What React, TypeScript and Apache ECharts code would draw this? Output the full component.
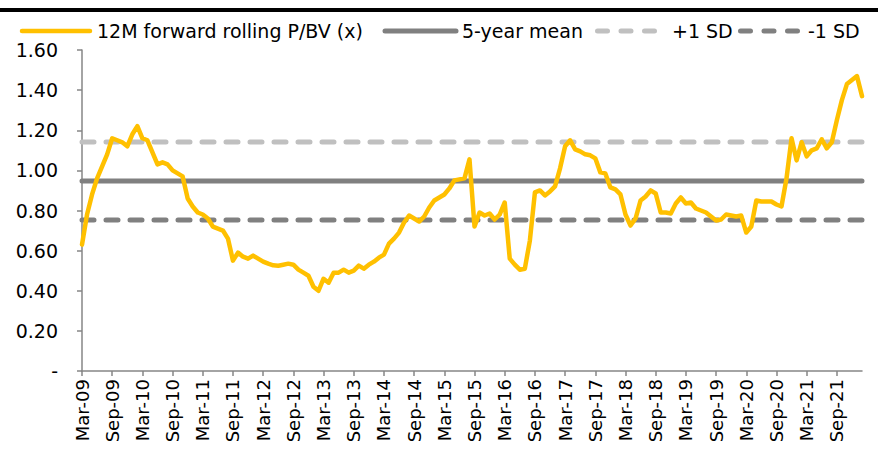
import React, { useEffect, useRef } from "react";
import * as echarts from "echarts";

// Monthly observations, Mar-09 .. Feb-22
const START_YEAR = 2009;
const START_MONTH = 2; // March (0-based)
const MONTHS = ["Jan", "Feb", "Mar", "Apr", "May", "Jun", "Jul", "Aug", "Sep", "Oct", "Nov", "Dec"];

const pbv: number[] = [
  0.63, 0.78, 0.88, 0.96, 1.02, 1.08, 1.16, 1.15, 1.14, 1.12,
  1.18, 1.22, 1.16, 1.15, 1.09, 1.03, 1.04, 1.03, 1.0, 0.985,
  0.97, 0.86, 0.82, 0.79, 0.78, 0.76, 0.72, 0.71, 0.7, 0.66,
  0.55, 0.59, 0.57, 0.56, 0.575, 0.56, 0.545, 0.535, 0.527, 0.525,
  0.53, 0.535, 0.53, 0.505, 0.49, 0.475, 0.42, 0.4, 0.46, 0.44,
  0.49, 0.49, 0.505, 0.49, 0.5, 0.525, 0.51, 0.53, 0.545, 0.565,
  0.58, 0.635, 0.66, 0.69, 0.74, 0.775, 0.76, 0.745, 0.77, 0.815,
  0.85, 0.865, 0.88, 0.91, 0.95, 0.955, 0.96, 1.055, 0.72, 0.79,
  0.775, 0.785, 0.755, 0.78, 0.84, 0.56, 0.53, 0.505, 0.51, 0.65,
  0.89, 0.9, 0.875, 0.895, 0.92, 1.01, 1.12, 1.15, 1.105, 1.095,
  1.08, 1.075, 1.06, 0.99, 0.985, 0.915, 0.905, 0.88, 0.78, 0.725,
  0.76, 0.85, 0.87, 0.9, 0.885, 0.79, 0.79, 0.785, 0.835, 0.865,
  0.835, 0.84, 0.81, 0.8, 0.79, 0.77, 0.75, 0.755, 0.78, 0.775,
  0.77, 0.775, 0.69, 0.72, 0.85, 0.845, 0.845, 0.845, 0.83, 0.82,
  0.96, 1.16, 1.05, 1.14, 1.07, 1.1, 1.11, 1.155, 1.11, 1.14,
  1.25, 1.35, 1.43, 1.45, 1.47, 1.37,
];

const MEAN_5Y = 0.947;
const PLUS_1SD = 1.141;
const MINUS_1SD = 0.753;

const yTicks = [0, 0.2, 0.4, 0.6, 0.8, 1.0, 1.2, 1.4, 1.6];

const SERIES_NAMES = ["12M forward rolling P/BV (x)", "5-year mean", "+1 SD", "-1 SD"];

const categories: string[] = pbv.map((_, i) => {
  const m = START_MONTH + i;
  const y = START_YEAR + Math.floor(m / 12);
  return `${MONTHS[m % 12]}-${String(y % 100).padStart(2, "0")}`;
});

const FONT = "DejaVu Sans";
const AXIS_GREY = "#868686";
const GOLD = "#FFC000";
const GREY = "#808080";
const LIGHT_GREY = "#C0C0C0";

export default function App() {
  const ref = useRef<HTMLDivElement>(null);
  useEffect(() => {
    document.body.style.margin = "0";
    if (!ref.current) return;
    const chart = echarts.init(ref.current, null, { renderer: "svg" });
    const flat = (v: number) => categories.map(() => v);
    const LY = 31;
    const legendLine = (x1: number, x2: number, color: string, dash?: number[], width = 5) => ({
      type: "line",
      shape: { x1, y1: LY, x2, y2: LY },
      style: { stroke: color, lineWidth: width, lineCap: "round", lineDash: dash },
      silent: true,
    });
    const legendText = (x: number, text: string) => ({
      type: "text",
      x,
      y: LY,
      style: { text, fill: "#000", font: `19px "${FONT}"`, textVerticalAlign: "middle", verticalAlign: "middle" },
      silent: true,
    });
    chart.setOption({
      animation: false,
      backgroundColor: "#ffffff",
      textStyle: { fontFamily: FONT, color: "#000" },
      graphic: [
        { type: "rect", shape: { x: 0, y: 8, width: 878, height: 4 }, style: { fill: "#000" } },
        legendLine(22, 90, GOLD, undefined, 4.5),
        legendText(97, SERIES_NAMES[0]),
        legendLine(385, 456, GREY),
        legendText(462, SERIES_NAMES[1]),
        legendLine(597.5, 655.5, LIGHT_GREY, [10, 13.5]),
        legendText(672, SERIES_NAMES[2]),
        legendLine(740.5, 798.5, GREY, [10, 13.5]),
        legendText(808, SERIES_NAMES[3]),
      ],
      grid: { left: 82, right: 16, top: 50, bottom: 94, containLabel: false },
      xAxis: {
        type: "category",
        data: categories,
        boundaryGap: false,
        axisLine: { lineStyle: { color: AXIS_GREY, width: 1.5 } },
        axisTick: { interval: 5, length: 5, lineStyle: { color: AXIS_GREY, width: 1.5 } },
        axisLabel: {
          interval: 5,
          rotate: 90,
          margin: 8,
          fontFamily: FONT,
          fontSize: 18,
          color: "#000",
        },
        splitLine: { show: false },
      },
      yAxis: {
        type: "value",
        min: yTicks[0],
        max: yTicks[yTicks.length - 1],
        interval: 0.2,
        axisLine: { show: true, lineStyle: { color: AXIS_GREY, width: 1.5 } },
        axisTick: { show: true, length: 5, lineStyle: { color: AXIS_GREY, width: 1.5 } },
        axisLabel: {
          margin: 24,
          fontFamily: FONT,
          fontSize: 19,
          color: "#000",
          formatter: (v: number) => (Math.abs(v) < 1e-9 ? "-" : v.toFixed(2)),
        },
        splitLine: { show: false },
      },
      series: [
        {
          name: SERIES_NAMES[0],
          type: "line",
          data: pbv,
          symbol: "none",
          z: 5,
          lineStyle: { color: GOLD, width: 4.5, join: "round", cap: "round" },
          itemStyle: { color: GOLD },
        },
        {
          name: SERIES_NAMES[1],
          type: "line",
          data: flat(MEAN_5Y),
          symbol: "none",
          z: 3,
          lineStyle: { color: GREY, width: 5, cap: "round" },
          itemStyle: { color: GREY },
        },
        {
          name: SERIES_NAMES[2],
          type: "line",
          data: flat(PLUS_1SD),
          symbol: "none",
          z: 2,
          lineStyle: { color: LIGHT_GREY, width: 5, type: [12, 12], cap: "round" },
          itemStyle: { color: LIGHT_GREY },
        },
        {
          name: SERIES_NAMES[3],
          type: "line",
          data: flat(MINUS_1SD),
          symbol: "none",
          z: 2,
          lineStyle: { color: GREY, width: 5, type: [12, 12], cap: "round" },
          itemStyle: { color: GREY },
        },
      ],
    });
    return () => chart.dispose();
  }, []);
  return <div ref={ref} style={{ width: 878, height: 465 }} />;
}
